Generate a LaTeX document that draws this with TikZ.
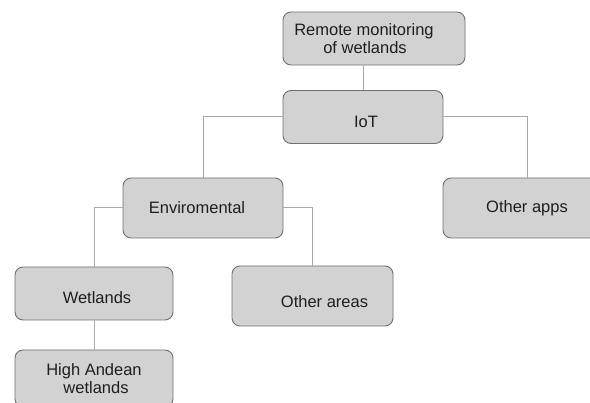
\documentclass[tikz,border=0pt]{standalone}
\usepackage{fontspec}
\setmainfont{Liberation Sans}
\definecolor{boxfill}{HTML}{D3D2D3}
\definecolor{boxline}{HTML}{707070}
\definecolor{conn}{HTML}{A8A8A8}
\definecolor{txt}{HTML}{1E1E1E}
\newcommand{\offtxt}[3]{\hspace*{#1}\raisebox{0pt}[\dimexpr\height+#2\relax]{#3}}
\begin{document}
\begin{tikzpicture}[x=1pt,y=-1pt,
  box/.style={draw=boxline, line width=0.9pt, fill=boxfill, rounded corners=8pt,
    inner sep=0pt, align=center, text=txt, font=\fontsize{16.5}{17.5}\selectfont},
  link/.style={draw=conn, line width=1pt}]
\useasboundingbox (0,0) rectangle (590,403);
\clip (0,0) rectangle (590,403);
\fill[white] (0,0) rectangle (590,403);
\node[box, minimum width=182pt, minimum height=53pt] (remote) at (374,38.5) {Remote monitoring\hspace*{20pt}\\of wetlands\hspace*{18pt}};
\node[box, minimum width=160pt, minimum height=53pt] (iot) at (363,117) {\offtxt{6pt}{10pt}{IoT}};
\node[box, minimum width=160pt, minimum height=60pt] (env) at (203,208) {Enviromental\hspace*{12pt}};
\node[box, minimum width=168pt, minimum height=60pt] (apps) at (527,208) {Other apps};
\node[box, minimum width=158pt, minimum height=53pt] (wet) at (94,293.5) {\offtxt{6pt}{9pt}{Wetlands}};
\node[box, minimum width=161pt, minimum height=60pt] (oth) at (312.5,296) {\offtxt{24pt}{12pt}{Other areas}};
\node[box, minimum width=158pt, minimum height=57pt] (high) at (94,378.5) {High Andean\\\hspace*{4pt}wetlands};
\draw[link] (iot.north) -- (iot.north |- remote.south);
\draw[link] (iot.west) -| (env.north);
\draw[link] (iot.east) -| (apps.north);
\draw[link] (env.west) -| (wet.north);
\draw[link] (env.east) -| (oth.north);
\draw[link] (wet.south) -- (high.north);
\end{tikzpicture}
\end{document}
